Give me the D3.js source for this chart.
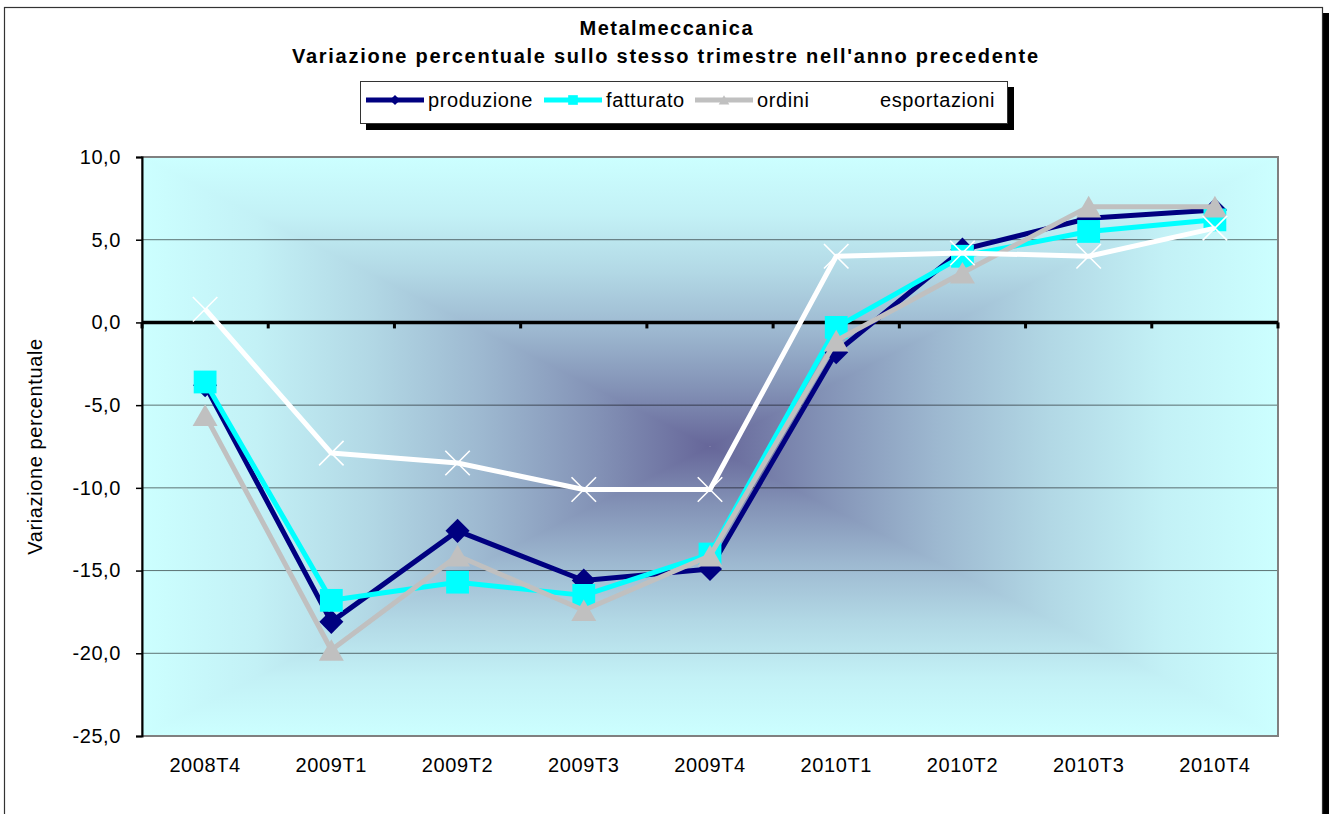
<!DOCTYPE html>
<html lang="it">
<head>
<meta charset="UTF-8">
<title>Metalmeccanica</title>
<script src="https://d3js.org/d3.v7.min.js"></script>
<style>
  body { margin: 0; background: #fff; }
  svg { display: block; font-family: "Liberation Sans", Arial, sans-serif; }
</style>
</head>
<body>
<svg width="1329" height="814"></svg>
<script>
// dati (variazione % sullo stesso trimestre dell'anno precedente)
const periodi = ["2008T4", "2009T1", "2009T2", "2009T3", "2009T4", "2010T1", "2010T2", "2010T3", "2010T4"];
const produzione   = [-3.8, -18.1, -12.6, -15.6, -14.9, -1.8, 4.4, 6.3, 6.8];
const fatturato    = [-3.6, -16.8, -15.7, -16.5, -14.0, -0.3, 4.0, 5.5, 6.2];
const ordini       = [-5.6, -19.8, -14.1, -17.4, -14.1, -1.1, 3.0, 7.0, 7.0];
const esportazioni = [0.8, -7.9, -8.5, -10.1, -10.1, 4.0, 4.2, 4.0, 5.7];
const yTicks = [-25, -20, -15, -10, -5, 0, 5, 10];
const titolo1 = "Metalmeccanica";
const titolo2 = "Variazione percentuale sullo stesso trimestre nell'anno precedente";
const yTitolo = "Variazione percentuale";

const svg = d3.select("svg");
const W = +svg.attr("width"), H = +svg.attr("height");
const plot = { left: 142, top: 157, right: 1278, bottom: 736 };

// cornice del grafico con ombra
svg.append("rect").attr("x", 1323).attr("y", 13).attr("width", 6).attr("height", H).attr("fill", "#000");
svg.append("rect").attr("x", 4.5).attr("y", 7.5).attr("width", 1318).attr("height", H)
  .attr("fill", "#fff").attr("stroke", "#333").attr("stroke-width", 1.2);

const x = d3.scaleBand().domain(periodi).range([plot.left, plot.right]);
const cx = d => x(d) + x.bandwidth() / 2;
const y = d3.scaleLinear().domain([-25, 10]).range([plot.bottom, plot.top]);
const it = d3.formatLocale({ decimal: ",", thousands: ".", grouping: [3], currency: ["", "€"], minus: "-" });
const fmt = it.format(".1f");

// sfondo: gradiente "dal centro" (rettangolare)
const defs = svg.append("defs");
const mx = (plot.left + plot.right) / 2, my = (plot.top + plot.bottom) / 2;
const mix = d3.interpolateRgb("#CCFFFF", "#666699");
function grad(id, x1, y1, x2, y2) {
  const g = defs.append("linearGradient").attr("id", id).attr("gradientUnits", "userSpaceOnUse")
    .attr("x1", x1).attr("y1", y1).attr("x2", x2).attr("y2", y2);
  [0, 0.2, 0.4, 0.6, 0.8, 1].forEach(o =>
    g.append("stop").attr("offset", o).attr("stop-color", mix(Math.pow(o, 1.5))));
}
grad("gT", mx, plot.top, mx, my);
grad("gB", mx, plot.bottom, mx, my);
grad("gL", plot.left, my, mx, my);
grad("gR", plot.right, my, mx, my);
const bg = svg.append("g");
bg.append("rect").attr("x", plot.left).attr("y", plot.top).attr("width", plot.right - plot.left)
  .attr("height", my - plot.top).attr("fill", "url(#gT)");
bg.append("rect").attr("x", plot.left).attr("y", my).attr("width", plot.right - plot.left)
  .attr("height", plot.bottom - my).attr("fill", "url(#gB)");
bg.append("path").attr("fill", "url(#gL)")
  .attr("d", `M${plot.left},${plot.top}L${mx},${my}L${plot.left},${plot.bottom}Z`);
bg.append("path").attr("fill", "url(#gR)")
  .attr("d", `M${plot.right},${plot.top}L${mx},${my}L${plot.right},${plot.bottom}Z`);

// griglia
svg.append("g").selectAll("line").data(yTicks.filter(v => v !== 0 && v > -25 && v < 10)).join("line")
  .attr("x1", plot.left).attr("x2", plot.right)
  .attr("y1", d => y(d)).attr("y2", d => y(d))
  .attr("stroke", "#000").attr("stroke-opacity", 0.55).attr("stroke-width", 1);

svg.append("rect").attr("x", plot.left).attr("y", plot.top)
  .attr("width", plot.right - plot.left).attr("height", plot.bottom - plot.top)
  .attr("fill", "none").attr("stroke", "#808080").attr("stroke-width", 2);

// asse y
const yAxis = svg.append("g").attr("transform", `translate(${plot.left},0)`)
  .call(d3.axisLeft(y).tickValues(yTicks).tickFormat(fmt).tickSize(6).tickPadding(15));
yAxis.select(".domain").attr("stroke", "#000").attr("stroke-width", 2);
yAxis.selectAll(".tick line").attr("stroke", "#000").attr("stroke-width", 1.5);
yAxis.selectAll("text").attr("font-size", 20).attr("font-family", "Liberation Sans, Arial, sans-serif")
  .attr("fill", "#000").attr("letter-spacing", 0.6);

svg.append("text").attr("transform", `translate(42,${my}) rotate(-90)`)
  .attr("text-anchor", "middle").attr("font-size", 20).attr("letter-spacing", 0.6).text(yTitolo);

// asse x sullo zero
const y0 = y(0);
svg.append("line").attr("x1", plot.left).attr("x2", plot.right).attr("y1", y0).attr("y2", y0)
  .attr("stroke", "#000").attr("stroke-width", 3.5);
svg.append("g").selectAll("line").data(d3.range(periodi.length + 1)).join("line")
  .attr("x1", i => plot.left + i * x.bandwidth()).attr("x2", i => plot.left + i * x.bandwidth())
  .attr("y1", y0).attr("y2", y0 + 6).attr("stroke", "#000").attr("stroke-width", 3);
svg.append("g").selectAll("text").data(periodi).join("text")
  .attr("x", d => cx(d)).attr("y", 772).attr("text-anchor", "middle")
  .attr("font-size", 20).attr("letter-spacing", 0.6).text(d => d);

// serie
const crossX = {
  draw(ctx, size) {
    const r = Math.sqrt(size) / 2;
    ctx.moveTo(-r, -r); ctx.lineTo(r, r);
    ctx.moveTo(-r, r); ctx.lineTo(r, -r);
  }
};
const serie = [
  { nome: "produzione", valori: produzione, colore: "#000080", simbolo: d3.symbolSquare, size: 290, rot: 45, dy: 0 },
  { nome: "fatturato", valori: fatturato, colore: "#00FFFF", simbolo: d3.symbolSquare, size: 520, rot: 0, dy: 0 },
  { nome: "ordini", valori: ordini, colore: "#C0C0C0", simbolo: d3.symbolTriangle, size: 270, rot: 0, dy: 3.6 },
  { nome: "esportazioni", valori: esportazioni, colore: "#FFFFFF", simbolo: crossX, size: 600, rot: 0, dy: 0, stroke: true }
];
const line = d3.line().x((d, i) => cx(periodi[i])).y(d => y(d));

serie.forEach(s => {
  const g = svg.append("g");
  g.append("path").datum(s.valori).attr("d", line).attr("fill", "none")
    .attr("stroke", s.colore).attr("stroke-width", 5).attr("stroke-linejoin", "round");
  const sym = d3.symbol(s.simbolo, s.size);
  g.selectAll("path.m").data(s.valori).join("path").attr("class", "m")
    .attr("transform", (d, i) => `translate(${cx(periodi[i])},${y(d) + s.dy}) rotate(${s.rot})`)
    .attr("d", sym)
    .attr("fill", s.stroke ? "none" : s.colore)
    .attr("stroke", s.stroke ? s.colore : "none").attr("stroke-width", 1.6);
});

// titolo
svg.append("text").attr("x", 666).attr("y", 35).attr("text-anchor", "middle")
  .attr("font-size", 20).attr("font-weight", "bold").attr("textLength", 173)
  .attr("lengthAdjust", "spacing").text(titolo1);
svg.append("text").attr("x", 665).attr("y", 63).attr("text-anchor", "middle")
  .attr("font-size", 20).attr("font-weight", "bold").attr("textLength", 746)
  .attr("lengthAdjust", "spacing").text(titolo2);

// legenda
const leg = svg.append("g");
leg.append("rect").attr("x", 366).attr("y", 87).attr("width", 648).attr("height", 43).attr("fill", "#000");
leg.append("rect").attr("x", 360.5).attr("y", 81.5).attr("width", 647).attr("height", 42)
  .attr("fill", "#fff").attr("stroke", "#333").attr("stroke-width", 1);
const legX = [366, 544, 695, 818];
serie.forEach((s, k) => {
  const gx = legX[k], gy = 100;
  const gi = leg.append("g").attr("transform", `translate(${gx},${gy})`);
  gi.append("line").attr("x1", 0).attr("x2", 58).attr("stroke", s.colore).attr("stroke-width", 5);
  gi.append("path").attr("transform", `translate(29,${s.dy * 0.4}) rotate(${s.rot})`)
    .attr("d", d3.symbol(s.simbolo, s.size * 0.18))
    .attr("fill", s.stroke ? "none" : s.colore)
    .attr("stroke", s.stroke ? s.colore : "none").attr("stroke-width", 1.2);
  gi.append("text").attr("x", 62).attr("y", 7).attr("font-size", 20).attr("letter-spacing", 0.6).text(s.nome);
});
</script>
</body>
</html>
